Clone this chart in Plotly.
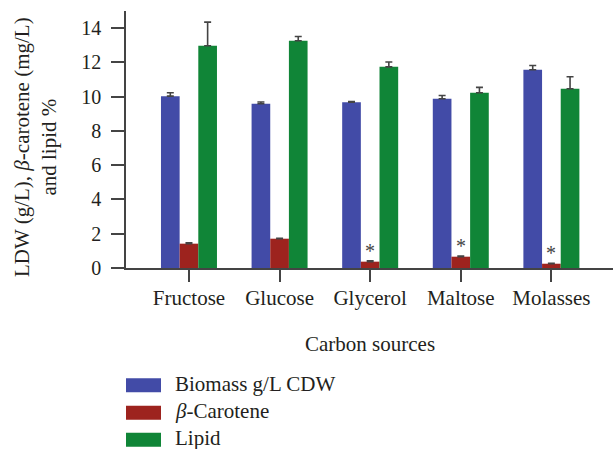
import plotly.graph_objects as go

categories = ["Fructose", "Glucose", "Glycerol", "Maltose", "Molasses"]
series_names = ["Biomass g/L CDW", "<i>β</i>-Carotene", "Lipid"]
biomass = [10.03, 9.59, 9.68, 9.88, 11.57]
biomass_err = [0.20, 0.10, 0.03, 0.19, 0.25]
carotene = [1.42, 1.71, 0.37, 0.66, 0.25]
carotene_err = [0.05, 0.03, 0.05, 0.04, 0.03]
lipid = [12.97, 13.26, 11.74, 10.23, 10.46]
lipid_err = [1.38, 0.25, 0.28, 0.31, 0.70]
significant = [False, False, True, True, True]
y_ticks = [0, 2, 4, 6, 8, 10, 12, 14]

colors = ["#424BA7", "#9D231E", "#108537"]
FONT = "Liberation Serif"
TXT = "#231F20"

W, H = 613, 449
ML, MR, MT, MB = 126, 0, 11, 181
PW, PH = W - ML - MR, H - MT - MB


def px_x(px):
    return (px - ML) / PW


def px_y(py):
    return (H - MB - py) / PH


fig = go.Figure()
for name, vals, errs, col in zip(series_names,
                                  [biomass, carotene, lipid],
                                  [biomass_err, carotene_err, lipid_err],
                                  colors):
    fig.add_trace(go.Bar(
        x=categories, y=vals, name=name, marker_color=col,
        marker_line_width=0, showlegend=False,
        error_y=dict(type="data", array=errs, arrayminus=[0] * len(errs),
                     symmetric=False, color="#444444", thickness=1.6, width=3.5),
    ))

annotations = []
for cat, v, e, sig in zip(categories, carotene, carotene_err, significant):
    if sig:
        annotations.append(dict(x=cat, y=v + e, xref="x", yref="y", text="*",
                                showarrow=False, yanchor="middle", yshift=10,
                                font=dict(family=FONT, size=20, color="#444444")))

# x axis title
annotations.append(dict(x=0.5, y=px_y(344), xref="paper", yref="paper",
                        text="Carbon sources", showarrow=False,
                        xanchor="center", yanchor="middle",
                        font=dict(family=FONT, size=21, color=TXT)))
# y axis title
annotations.append(dict(x=px_x(35), y=px_y(147), xref="paper", yref="paper",
                        text="LDW (g/L), <i>β</i>-carotene (mg/L)<br>and lipid %",
                        showarrow=False, textangle=-90,
                        xanchor="center", yanchor="middle",
                        font=dict(family=FONT, size=21, color=TXT)))

# custom legend
shapes = []
legend_centers = [385.3, 412.8, 439.7]
for name, col, cy in zip(series_names, colors, legend_centers):
    shapes.append(dict(type="rect", xref="paper", yref="paper",
                       x0=px_x(126), x1=px_x(161), y0=px_y(cy + 7), y1=px_y(cy - 7),
                       fillcolor=col, line_width=0))
    annotations.append(dict(x=px_x(173), y=px_y(cy - 1.5), xref="paper", yref="paper",
                            text=name, showarrow=False, xanchor="left", yanchor="middle",
                            font=dict(family=FONT, size=21, color=TXT)))

fig.update_layout(
    width=W, height=H,
    margin=dict(l=ML, r=MR, t=MT, b=MB, pad=0),
    paper_bgcolor="white", plot_bgcolor="white",
    barmode="group", bargap=0.382, bargroupgap=0,
    showlegend=False,
    annotations=annotations, shapes=shapes,
    font=dict(family=FONT, color=TXT),
)
fig.update_xaxes(
    range=[-0.695, 4.68], showline=True, linecolor="#444444", linewidth=1.6,
    ticks="outside", ticklen=12, tickwidth=1.6, tickcolor="#444444",
    tickfont=dict(family=FONT, size=21, color=TXT), showgrid=False, zeroline=False,
    ticklabelstandoff=-2,
)
fig.update_yaxes(
    range=[0, 15], tickvals=y_ticks, showline=True, linecolor="#444444", linewidth=1.6,
    ticks="outside", ticklen=13, tickwidth=1.6, tickcolor="#444444",
    tickfont=dict(family=FONT, size=20, color=TXT), showgrid=False, zeroline=False,
    ticklabelstandoff=6,
)

fig.write_html("out.html", config={"displayModeBar": False},
               post_script="document.body.style.margin='0';document.body.style.overflow='hidden';")
